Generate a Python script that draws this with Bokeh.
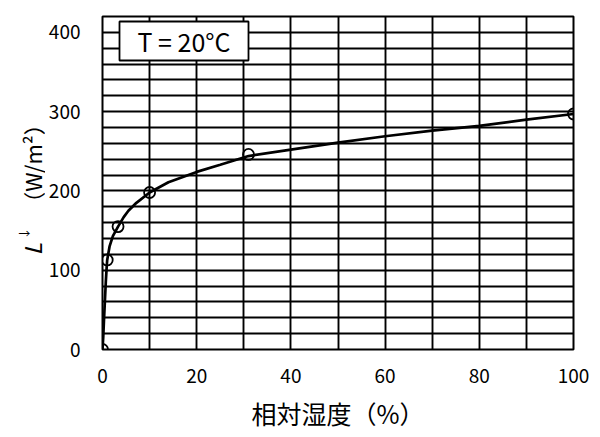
import math
from bokeh.plotting import figure
from bokeh.layouts import row
from bokeh.models import FixedTicker, Label
from bokeh.embed import file_html
from bokeh.resources import INLINE

# measured points (relative humidity %, L-down W/m2)
rh_points = [0, 1.0, 3.3, 10, 31, 100]
l_points = [0, 113, 155, 198, 246, 297]

# fitted curve
rh_curve = [0, 0.15, 0.3, 0.5, 0.7, 0.9, 1.0, 1.5, 2.2, 3.3, 4.5, 5.5, 7.2, 10, 14, 20, 25, 31, 40, 50, 60, 70, 80, 90, 100]
l_curve = [0, 15, 35, 60, 85, 105, 113, 130, 143, 155, 167, 175, 185, 198, 211, 224, 233, 244, 252, 261, 269, 276, 282, 290, 297]

x_ticks = [0, 20, 40, 60, 80, 100]
y_ticks = [0, 100, 200, 300, 400]
x_grid = list(range(0, 101, 10))
y_grid = list(range(0, 421, 20))

FONT = "Noto Sans CJK JP"
H = 437

# ---- narrow figure that only carries the y-axis title ----
pl = figure(width=45, height=H, x_range=(0, 45), y_range=(0, 1),
            x_axis_type=None, y_axis_type=None,
            output_backend="svg", toolbar_location=None,
            min_border_left=0, min_border_right=0, min_border_top=16, min_border_bottom=88)
pl.outline_line_color = None
pl.xgrid.visible = False
pl.ygrid.visible = False

pl.add_layout(Label(x=31, y=94, x_units="screen", y_units="screen", text="L",
                    angle=math.pi / 2, text_align="left", text_baseline="alphabetic",
                    text_font=FONT, text_font_size="23px", text_font_style="italic",
                    text_color="black"))
pl.add_layout(Label(x=23, y=110, x_units="screen", y_units="screen", text="↓",
                    angle=math.pi / 2, text_align="left", text_baseline="alphabetic",
                    text_font=FONT, text_font_size="12px", text_color="black"))
pl.add_layout(Label(x=31, y=186, x_units="screen", y_units="screen", text="（W/m²）",
                    angle=math.pi / 2, text_align="center", text_baseline="alphabetic",
                    text_font=FONT, text_font_size="22px", text_color="black"))

# ---- main chart ----
p = figure(width=547, height=H, x_range=(0, 100), y_range=(0, 420),
           output_backend="svg", toolbar_location=None,
           min_border_left=56, min_border_right=19, min_border_top=16, min_border_bottom=88)

p.outline_line_color = "black"
p.outline_line_width = 2

p.xgrid.ticker = FixedTicker(ticks=x_grid)
p.ygrid.ticker = FixedTicker(ticks=y_grid)
for g in (p.xgrid, p.ygrid):
    g.grid_line_color = "black"
    g.grid_line_width = 1.9
    g.grid_line_alpha = 1.0

p.xaxis.ticker = FixedTicker(ticks=x_ticks)
p.yaxis.ticker = FixedTicker(ticks=y_ticks)
for ax in (p.xaxis, p.yaxis):
    ax.axis_line_color = None
    ax.major_tick_line_color = None
    ax.minor_tick_line_color = None
    ax.major_label_text_font = FONT
    ax.major_label_text_font_size = "19px"
    ax.major_label_text_color = "black"

p.yaxis.major_label_standoff = 16
p.xaxis.major_label_standoff = 13

p.xaxis.axis_label = "相対湿度（%）"
p.xaxis.axis_label_text_font = FONT
p.xaxis.axis_label_text_font_size = "25px"
p.xaxis.axis_label_text_font_style = "normal"
p.xaxis.axis_label_text_color = "black"
p.xaxis.axis_label_standoff = 9

p.line(rh_curve, l_curve, line_color="black", line_width=2.7)
p.scatter(rh_points, l_points, marker="circle", size=11, fill_color=None,
          line_color="black", line_width=1.8)

# condition box
p.add_layout(Label(x=17, y=328, x_units="screen", y_units="screen", text="T = 20°C",
                   text_align="left", text_baseline="top",
                   text_font=FONT, text_font_size="25px", text_color="black",
                   background_fill_color="white", border_line_color="black",
                   border_line_width=1.8, padding=dict(left=18, right=18, top=1, bottom=2)))

layout = row(pl, p, spacing=0)
open("out.html", "w").write(file_html(layout, INLINE))
